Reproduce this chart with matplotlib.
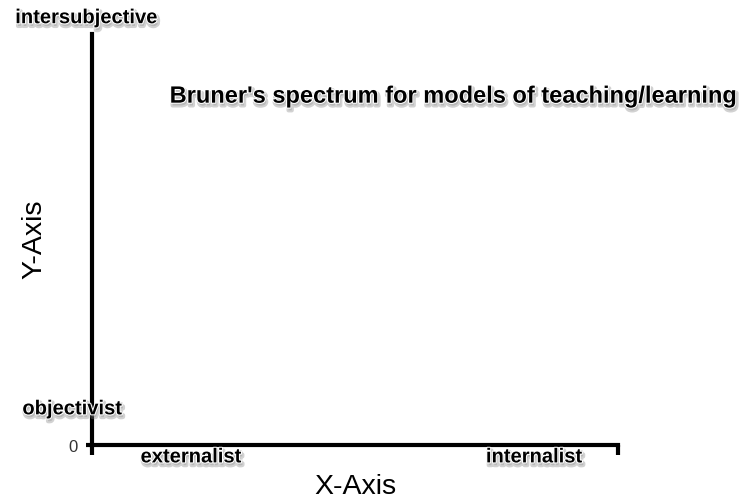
import matplotlib.pyplot as plt
import matplotlib.patheffects as pe

# labels along the axes and where they sit (data units)
x_labels = ["externalist", "internalist"]
x_pos = [1.88, 8.4]
y_labels = ["objectivist", "intersubjective"]
y_lab_x = [-0.38, -0.11]
y_lab_y = [0.88, 10.4]
title = "Bruner's spectrum for models of teaching/learning"

plt.rcParams['font.family'] = ['Liberation Sans', 'DejaVu Sans']

fig = plt.figure(figsize=(7.43, 5.02), dpi=100)
ax = fig.add_axes([0.1238, 0.1116, 0.708, 0.8184])
ax.set_xlim(0, 10)
ax.set_ylim(0, 10)

for s in ["top", "right"]:
    ax.spines[s].set_visible(False)
for s in ["left", "bottom"]:
    ax.spines[s].set_linewidth(3)

ax.set_xticks([0, 10])
ax.set_xticklabels(["", ""])
ax.tick_params(axis="x", length=7, width=3, direction="out")
ax.set_yticks([0])
ax.set_yticklabels(["0"])
ax.tick_params(axis="y", length=4, width=3, direction="out", labelsize=12, labelcolor="#333333", pad=6)

ax.set_xlabel("X-Axis", fontsize=20.5, va="center")
ax.xaxis.set_label_coords(0.5, -0.1)
ax.set_ylabel("Y-Axis", fontsize=20.5, va="center")
ax.yaxis.set_label_coords(-0.110, 0.504)

# soft grey drop shadow plus a thin white halo, like the original labels
shadow = [pe.SimpleLineShadow(offset=(1, -2), shadow_color="gray", alpha=0.35, linewidth=3),
          pe.withSimplePatchShadow(offset=(1, -2), shadow_rgbFace="gray", alpha=0.3),
          pe.Stroke(linewidth=1.5, foreground="white"), pe.Normal()]

for lab, x in zip(x_labels, x_pos):
    ax.text(x, -0.29, lab, ha="center", va="center", fontsize=14.5, fontweight="bold",
            clip_on=False, path_effects=shadow, zorder=5)
for lab, x, y in zip(y_labels, y_lab_x, y_lab_y):
    ax.text(x, y, lab, ha="center", va="center", fontsize=14.5, fontweight="bold",
            clip_on=False, path_effects=shadow, zorder=5)

ax.text(6.88, 8.49, title, ha="center", va="center", fontsize=17, fontweight="bold",
        path_effects=shadow, zorder=5)

fig.savefig("out.png", dpi=100)
